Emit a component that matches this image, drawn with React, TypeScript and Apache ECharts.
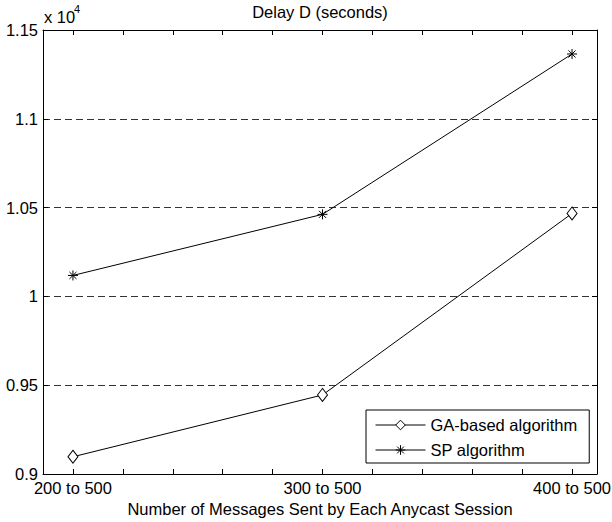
import React, { useEffect, useRef } from "react";
import * as echarts from "echarts";

const categories = ["200 to 500", "300 to 500", "400 to 500"];
const xPositions = [200, 300, 400];
const xTicks = [200, 220, 240, 260, 280, 300, 320, 340, 360, 380, 400];
const yTicks = [0.9, 0.95, 1, 1.05, 1.1, 1.15];
const gaValues = [9097, 9445, 10467];
const spValues = [10118, 10462, 11365];
const seriesNames = ["GA-based algorithm", "SP algorithm"];

const FONT = "Liberation Sans, Arial, Helvetica, sans-serif";
const FS = 16.5;
const STAR = "path://M5,0L5,10M0,5L10,5M1.46,1.46L8.54,8.54M1.46,8.54L8.54,1.46";

export default function App() {
  const ref = useRef<HTMLDivElement>(null);
  useEffect(() => {
    if (!ref.current) return;
    const chart = echarts.init(ref.current, undefined, { renderer: "svg" });
    const ga = xPositions.map((x, i) => [x, gaValues[i] / 1e4]);
    const sp = xPositions.map((x, i) => [x, spValues[i] / 1e4]);
    const axisLine = { show: true, onZero: false, lineStyle: { color: "#000", width: 1 } };
    chart.setOption({
      animation: false,
      backgroundColor: "#fff",
      textStyle: { fontFamily: FONT, color: "#000" },
      grid: { left: 43, right: 15, top: 30, bottom: 48, containLabel: false, outerBoundsMode: "none" },
      xAxis: [
        {
          type: "value",
          position: "bottom",
          min: 188,
          max: 410,
          axisLine,
          axisTick: { show: true, inside: true, length: 5, customValues: xTicks, lineStyle: { color: "#000" } },
          axisLabel: {
            show: true,
            customValues: xPositions,
            formatter: (v: number) => categories[xPositions.indexOf(v)] ?? "",
            fontSize: FS,
            color: "#000",
            margin: 5,
            fontFamily: FONT,
          },
          splitLine: { show: false },
          name: "Number of Messages Sent by Each Anycast Session",
          nameLocation: "middle",
          nameGap: 26,
          nameTextStyle: { fontSize: FS, color: "#000", fontFamily: FONT },
        },
        {
          type: "value",
          position: "top",
          min: 188,
          max: 410,
          axisLine,
          axisTick: { show: true, inside: true, length: 5, customValues: xTicks, lineStyle: { color: "#000" } },
          axisLabel: { show: false },
          splitLine: { show: false },
        },
      ],
      yAxis: [
        {
          type: "value",
          position: "left",
          min: yTicks[0],
          max: yTicks[yTicks.length - 1],
          interval: 0.05,
          axisLine,
          axisTick: { show: true, inside: true, length: 5, lineStyle: { color: "#000" } },
          axisLabel: {
            fontSize: FS,
            color: "#000",
            margin: 5,
            fontFamily: FONT,
            formatter: (v: number) => String(parseFloat(v.toFixed(2))),
          },
          splitLine: { show: true, lineStyle: { color: "#333", width: 1, type: [7, 4] } },
        },
        {
          type: "value",
          position: "right",
          min: yTicks[0],
          max: yTicks[yTicks.length - 1],
          interval: 0.05,
          axisLine,
          axisTick: { show: true, inside: true, length: 5, lineStyle: { color: "#000" } },
          axisLabel: { show: false },
          splitLine: { show: false },
        },
      ],
      legend: {
        data: seriesNames,
        orient: "vertical",
        left: 366,
        top: 410,
        itemWidth: 50,
        itemHeight: 12,
        itemGap: 5,
        padding: [5, 12, 3, 9],
        borderColor: "#000",
        borderWidth: 1,
        backgroundColor: "#fff",
        lineStyle: { width: 1, color: "#000" },
        itemStyle: { borderWidth: 1 },
        textStyle: { fontSize: FS, color: "#000", fontFamily: FONT, lineHeight: 20 },
      },
      graphic: [
        {
          type: "text",
          x: 320,
          y: 12,
          style: { text: "Delay D (seconds)", font: `${FS}px ${FONT}`, fill: "#000", textAlign: "center", textVerticalAlign: "middle" },
        },
        {
          type: "text",
          x: 44,
          y: 17,
          style: { text: "x 10", font: `${FS}px ${FONT}`, fill: "#000", textAlign: "left", textVerticalAlign: "middle" },
        },
        {
          type: "text",
          x: 74,
          y: 9,
          style: { text: "4", font: `11px ${FONT}`, fill: "#000", textAlign: "left", textVerticalAlign: "middle" },
        },
      ],
      series: [
        {
          name: seriesNames[0],
          type: "line",
          data: ga,
          symbol: "diamond",
          symbolSize: [10, 13],
          lineStyle: { color: "#000", width: 1 },
          itemStyle: { color: "#fff", borderColor: "#000", borderWidth: 1 },
        },
        {
          name: seriesNames[1],
          type: "line",
          data: sp,
          symbol: STAR,
          symbolSize: 10,
          lineStyle: { color: "#000", width: 1 },
          itemStyle: { color: "#000", borderColor: "#000", borderWidth: 1 },
        },
      ],
    });
    return () => chart.dispose();
  }, []);
  return (
    <div
      ref={ref}
      style={{ position: "absolute", left: 0, top: 0, width: 612, height: 522, background: "#fff" }}
    />
  );
}
